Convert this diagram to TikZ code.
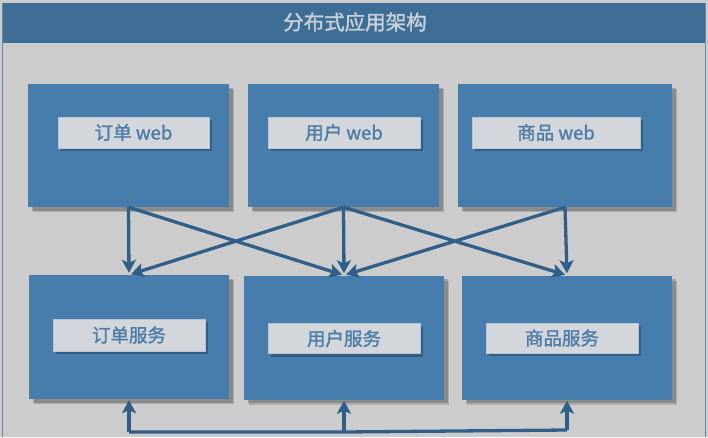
\documentclass[tikz,border=0pt]{standalone}
\usepackage{fontspec}
\newfontfamily\cjk[FakeBold=1.5]{Noto Sans CJK SC}
\usetikzlibrary{shadows,arrows.meta}
\definecolor{bg}{HTML}{CCCCCC}
\definecolor{bar}{HTML}{3E6E96}
\definecolor{boxc}{HTML}{467DAD}
\definecolor{lab}{HTML}{D3D7DB}
\definecolor{labtxt}{HTML}{4F7CA6}
\definecolor{arrc}{HTML}{2F5F88}
\definecolor{framec}{HTML}{6488A8}
\definecolor{titletxt}{HTML}{C8D0D8}
\begin{document}
\begin{tikzpicture}[x=1pt,y=-1pt,
  bigbox/.style={fill=boxc, inner sep=0pt, minimum height=124pt,
    drop shadow={shadow xshift=5pt, shadow yshift=-5pt, opacity=0.15, fill=black},
    drop shadow={shadow xshift=3.5pt, shadow yshift=-3.5pt, opacity=0.2, fill=black}},
  labbox/.style={fill=lab, draw=lab!80!boxc, line width=0.6pt, inner sep=0pt,
    minimum height=31pt, text=labtxt, font=\cjk\fontsize{18.5}{21}\selectfont,
    drop shadow={shadow xshift=3pt, shadow yshift=-3pt, opacity=0.5, fill=arrc!70!black}},
  arr/.style={draw=arrc, line width=3.3pt, -{Stealth[length=13pt,width=14pt,inset=3pt]}},
  link/.style={draw=arrc, line width=3.3pt},
]
\useasboundingbox (0,0) rectangle (708,437);
\fill[bg] (0,0) rectangle (708,437);
% frame
\fill[bar] (2,3) rectangle (706,43);
\draw[framec, line width=1.5pt] (2.5,3) -- (2.5,437);
\draw[framec, line width=1.5pt] (705.5,3) -- (705.5,437);
\draw[white!70!bar, line width=1pt] (3,43.5) -- (705,43.5);
\node[text=titletxt, font=\cjk\fontsize{20.5}{24}\selectfont] (title) at (355,22) {分布式应用架构};

% top boxes
\node[bigbox, minimum width=201pt, minimum height=123pt] (t1) at (128.5,145.5) {};
\node[bigbox, minimum width=191pt, minimum height=123pt] (t2) at (343.5,145.5) {};
\node[bigbox, minimum width=214pt, minimum height=123pt] (t3) at (565,145.5) {};
% bottom boxes
\node[bigbox, minimum width=200pt] (b1) at (129,337) {};
\node[bigbox, minimum width=200pt] (b2) at (344,337.5) {};
\node[bigbox, minimum width=210pt] (b3) at (567,337.5) {};

% labels
\node[labbox, minimum width=151pt] (l1) at (133.5,132.5) {订单 web};
\node[labbox, minimum width=152pt] (l2) at (344,132.5) {用户 web};
\node[labbox, minimum width=168pt] (l3) at (556,132.5) {商品 web};
\node[labbox, minimum width=152pt, minimum height=32pt] (m1) at (129,335) {订单服务};
\node[labbox, minimum width=152pt, minimum height=30pt] (m2) at (344,338.5) {用户服务};
\node[labbox, minimum width=152pt, minimum height=30pt] (m3) at (562,338) {商品服务};

% web -> service arrows
\draw[arr, shorten >=2pt] (t1.south) -- (b1.north);
\draw[arr, shorten >=2pt] (t1.south) -- (b2.north);
\draw[arr, shorten >=2pt] (t2.south) -- (b1.north);
\draw[arr, shorten >=2pt] (t2.south) -- (b2.north);
\draw[arr, shorten >=2pt] (t2.south) -- (b3.north);
\draw[arr, shorten >=2pt] (t3.south) -- (b2.north);
\draw[arr, shorten >=2pt] (t3.south) -- (b3.north);

% service interconnect
\coordinate (j1) at (b1.south |- 0,432);
\coordinate (j2) at (b2.south |- 0,432);
\coordinate (j3) at (b3.south |- 0,430);
\draw[link, line join=round] (j1) -- (j2) -- (j3);
\draw[arr, shorten >=1pt] (j1) -- (b1.south);
\draw[arr, shorten >=1pt] (j2) -- (b2.south);
\draw[arr, shorten >=1pt] (j3) -- (b3.south);
\end{tikzpicture}
\end{document}
